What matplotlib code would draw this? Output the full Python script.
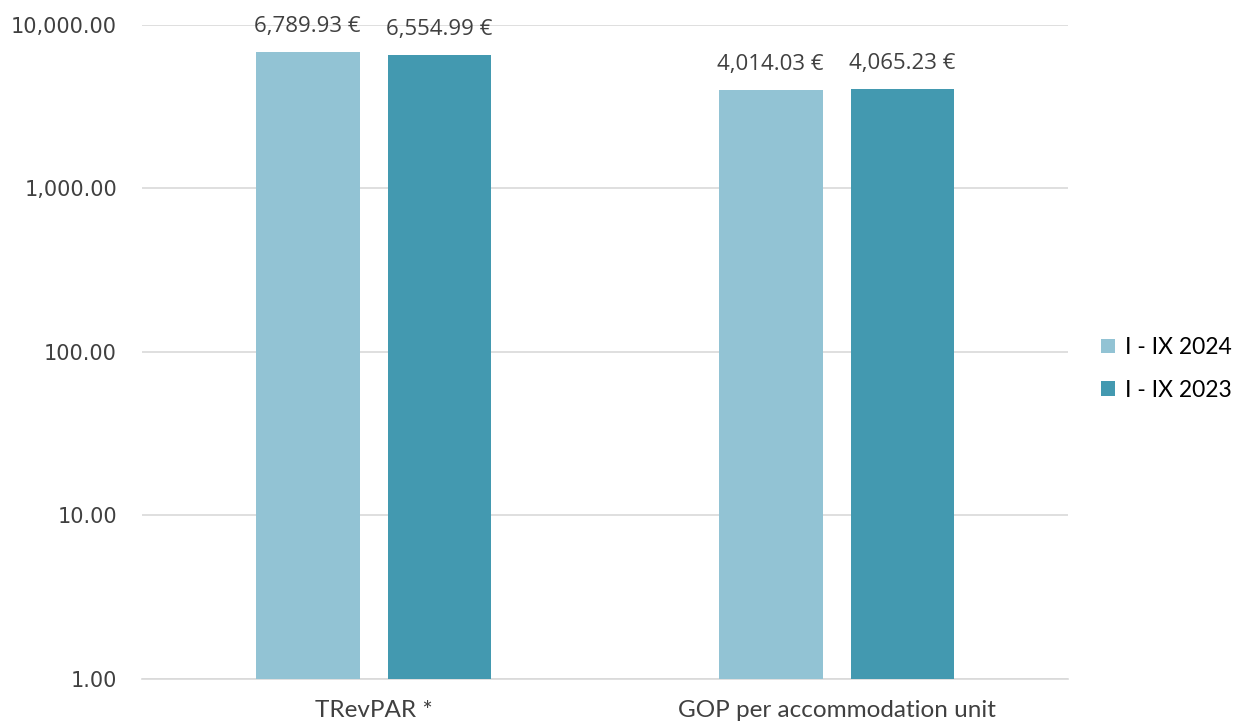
import matplotlib

matplotlib.use("Agg")

import matplotlib.pyplot as plt
import numpy as np
from matplotlib.ticker import FixedLocator, FuncFormatter, NullLocator

categories = ["TRevPAR *", "GOP per accommodation unit"]
series_names = ["I - IX 2024", "I - IX 2023"]
values_2024 = [6789.93, 4014.03]
values_2023 = [6554.99, 4065.23]
y_ticks = [1, 10, 100, 1000, 10000]

colors = ["#92C3D4", "#4399B0"]
text_color = "#404040"
grid_color = "#D9D9D9"

fig = plt.figure(figsize=(12.36, 7.22), dpi=100)
ax = fig.add_axes([0.1149, 0.0596, 0.7492, 0.9058])

x = np.arange(len(categories))
width = 0.2246
offset = 0.1425

for i, (vals, name) in enumerate(zip([values_2024, values_2023], series_names)):
    pos = x + (-offset if i == 0 else offset)
    bars = ax.bar(pos, vals, width=width, color=colors[i], label=name, zorder=3)
    for rect, v in zip(bars, vals):
        ax.annotate(f"{v:,.2f} €", (rect.get_x() + rect.get_width() / 2, v),
                    xytext=(0, 11), textcoords="offset points",
                    ha="center", va="bottom", fontsize=16,
                    color=text_color, family="Open Sans")

ax.set_yscale("log")
ax.set_ylim(1, 10000)
ax.set_xlim(-0.5, len(categories) - 0.5)
ax.yaxis.set_major_locator(FixedLocator(y_ticks))
ax.yaxis.set_minor_locator(NullLocator())
ax.yaxis.set_major_formatter(FuncFormatter(lambda v, _: f"{v:,.2f}"))
ax.grid(axis="y", color=grid_color, linewidth=1.2, zorder=0)

ax.set_xticks(x)
ax.set_xticklabels(categories, fontsize=17.5, color=text_color, family="Lato")
ax.tick_params(axis="x", length=0, pad=15)
ax.tick_params(axis="y", length=0, pad=18, labelsize=15, labelcolor=text_color)

for side in ["top", "right", "left"]:
    ax.spines[side].set_visible(False)
ax.spines["bottom"].set_color(grid_color)
ax.spines["bottom"].set_linewidth(1.2)

handles, labels = ax.get_legend_handles_labels()
fig.legend(handles, labels, loc="center left", bbox_to_anchor=(0.891, 0.489),
           frameon=False, borderpad=0, borderaxespad=0,
           handlelength=0.62, handleheight=0.62,
           handletextpad=0.4, labelspacing=0.95, prop={"family": "Lato", "size": 16.5})

fig.savefig("out.png", dpi=100)
